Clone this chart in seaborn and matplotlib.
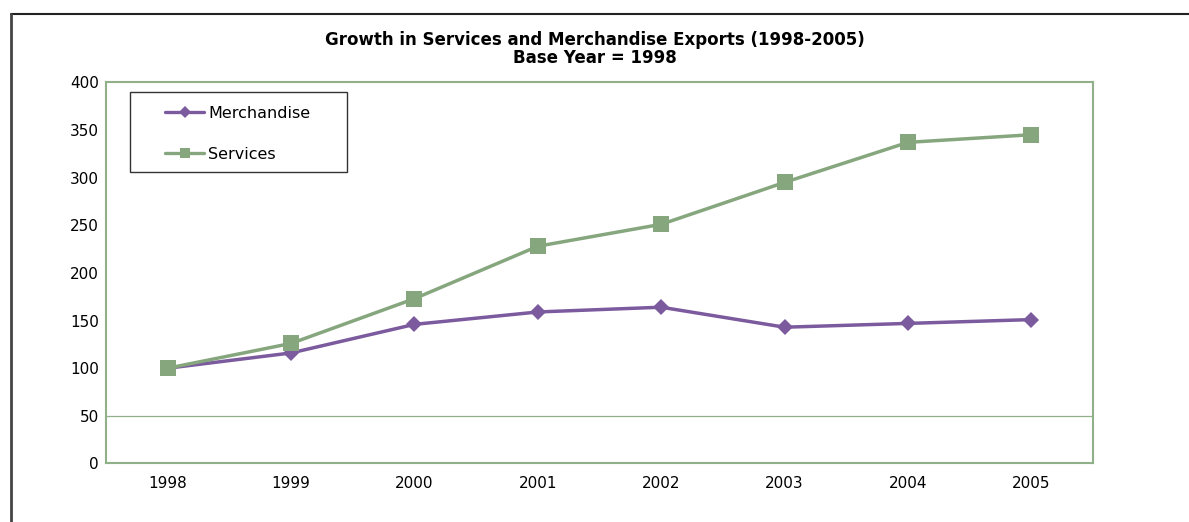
import matplotlib
matplotlib.use("Agg")
import matplotlib.pyplot as plt
from matplotlib.lines import Line2D
from matplotlib.patches import Rectangle
import seaborn as sns
import pandas as pd

# Export indices, 1998 = 100
years = ["1998", "1999", "2000", "2001", "2002", "2003", "2004", "2005"]
merchandise = [100, 116, 146, 159, 164, 143, 147, 151]
services = [100, 126, 173, 228, 251, 295, 337, 345]
series_names = ["Merchandise", "Services"]
y_ticks = [0, 50, 100, 150, 200, 250, 300, 350, 400]

purple = "#7B5A9E"
green = "#86A67E"
axis_green = "#8FB089"

df = pd.DataFrame({
    "Year": years * 2,
    "Index": merchandise + services,
    "Series": [series_names[0]] * len(years) + [series_names[1]] * len(years),
})

sns.set_theme(style="white")
plt.rcParams["font.family"] = ["DejaVu Sans"]

fig = plt.figure(figsize=(11.89, 5.22), dpi=100)
ax = fig.add_axes([0.0892, 0.1121, 0.8301, 0.7302])

sns.lineplot(
    data=df, x="Year", y="Index", hue="Series", style="Series",
    palette={"Merchandise": purple, "Services": green},
    markers={"Merchandise": "D", "Services": "s"},
    dashes=False, linewidth=2.5, markeredgewidth=0,
    ax=ax, legend=False, sort=False,
)
# marker sizes per series
for line in ax.get_lines():
    if line.get_marker() == "s":
        line.set_markersize(11.5)
    elif line.get_marker() == "D":
        line.set_markersize(8.5)

ax.set_xlim(-0.5, len(years) - 0.5)
ax.set_ylim(0, 400)
ax.set_yticks(y_ticks)
ax.set_xticks(range(len(years)))
ax.set_xticklabels(years)
ax.set_xlabel("")
ax.set_ylabel("")
ax.axhline(50, color=axis_green, linewidth=0.9, zorder=0)
for side in ["left", "right", "top", "bottom"]:
    ax.spines[side].set_visible(True)
    ax.spines[side].set_color(axis_green)
    ax.spines[side].set_linewidth(1.5)
ax.tick_params(axis="both", length=0, labelsize=11, colors="black")
ax.tick_params(axis="x", pad=9)
ax.tick_params(axis="y", pad=5)

# legend box
ax.add_patch(Rectangle((0.0243, 0.7647), 0.2199, 0.2099, transform=ax.transAxes,
                       facecolor="white", edgecolor="#333333", linewidth=1.0, zorder=4))
handles = [
    Line2D([0], [0], color=purple, linewidth=2.4, marker="D", markersize=6.5, markeredgewidth=0),
    Line2D([0], [0], color=green, linewidth=2.4, marker="s", markersize=7.5, markeredgewidth=0),
]
leg = ax.legend(
    handles, series_names, loc="upper left",
    bbox_to_anchor=(0.0598, 0.938), borderaxespad=0, borderpad=0,
    fontsize=11.5, frameon=False, handlelength=2.45,
    handletextpad=0.25, labelspacing=1.62,
)
leg.set_zorder(5)
for t in leg.get_texts():
    t.set_color("black")

fig.text(0.5, 0.924, "Growth in Services and Merchandise Exports (1998-2005)",
         ha="center", va="center", fontsize=12, fontweight="bold", color="black")
fig.text(0.5, 0.889, "Base Year = 1998",
         ha="center", va="center", fontsize=12, fontweight="bold", color="black")

# outer chart frame (top and left edges)
fig.add_artist(Line2D([11 / 1189, 1.0], [1 - 14 / 522, 1 - 14 / 522],
                      transform=fig.transFigure, color="#222222", linewidth=1.5))
fig.add_artist(Line2D([11 / 1189, 11 / 1189], [0.0, 1 - 14 / 522],
                      transform=fig.transFigure, color="#444444", linewidth=2.0))

fig.savefig("out.png", dpi=100)
